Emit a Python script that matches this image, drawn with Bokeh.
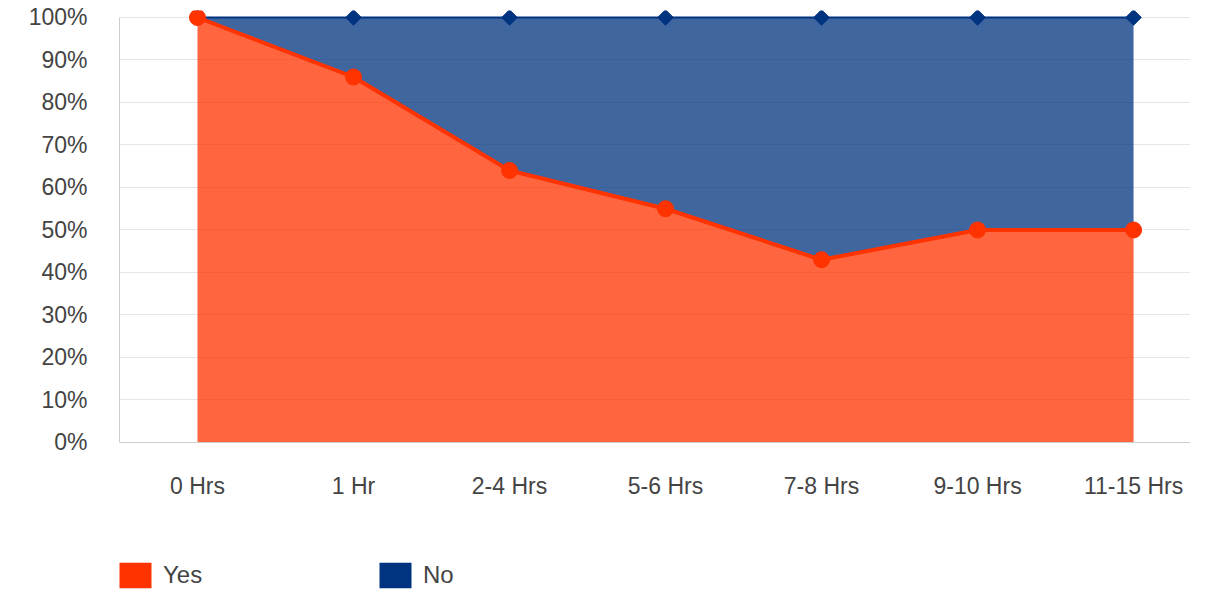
from bokeh.plotting import figure
from bokeh.models import (ColumnDataSource, Range1d, FixedTicker, PrintfTickFormatter,
                          Legend, LegendItem)
from bokeh.embed import file_html
from bokeh.resources import INLINE
import math

categories = ["0 Hrs", "1 Hr", "2-4 Hrs", "5-6 Hrs", "7-8 Hrs", "9-10 Hrs", "11-15 Hrs"]
yes = [100, 86, 64, 55, 43, 50, 50]
no = [0, 14, 36, 45, 57, 50, 50]
y_ticks = [0, 10, 20, 30, 40, 50, 60, 70, 80, 90, 100]

YES_COLOR = "#FF3300"
NO_COLOR = "#003380"
FONT = "Liberation Sans"

x = list(range(len(categories)))
no_top = [a + b for a, b in zip(yes, no)]
src = ColumnDataSource(dict(x=x, yes=yes, no_top=no_top, base=[0] * len(x)))

# frame runs to the bottom of the canvas so the legend can sit inside it
p = figure(width=1190, height=591, output_backend="svg", toolbar_location=None,
           x_range=Range1d(-0.5, 6.365), y_range=Range1d(-35.059, 101.647),
           min_border_left=119, min_border_right=0, min_border_top=10,
           min_border_bottom=0)
p.outline_line_color = None
p.background_fill_color = "white"

# No series (stacked on top)
p.varea(x="x", y1="yes", y2="no_top", source=src, fill_color=NO_COLOR, fill_alpha=0.75)
# Yes series
p.varea(x="x", y1="base", y2="yes", source=src, fill_color=YES_COLOR, fill_alpha=0.75)

p.line(x="x", y="no_top", source=src, line_color=NO_COLOR, line_width=2)
p.scatter(x="x", y="no_top", source=src, marker="square", angle=math.pi / 4, size=11,
          fill_color=NO_COLOR, line_color=NO_COLOR)

p.line(x="x", y="yes", source=src, line_color=YES_COLOR, line_width=4)
p.scatter(x="x", y="yes", source=src, marker="circle", size=16,
          fill_color=YES_COLOR, line_color=YES_COLOR)

# grid & axes
p.xgrid.visible = False
p.ygrid.grid_line_color = "#e6e6e6"
p.ygrid.grid_line_width = 1
p.ygrid.ticker = FixedTicker(ticks=y_ticks)
p.yaxis.ticker = FixedTicker(ticks=y_ticks)
p.yaxis.formatter = PrintfTickFormatter(format="%d%%")
p.yaxis.bounds = (0, 100)
p.xaxis.ticker = FixedTicker(ticks=x)
p.xaxis.major_label_overrides = {i: c for i, c in enumerate(categories)}
p.xaxis.fixed_location = 0

for ax in (p.xaxis, p.yaxis):
    ax.axis_line_color = "#cccccc"
    ax.axis_line_width = 1
    ax.major_tick_line_color = None
    ax.minor_tick_line_color = None
    ax.major_tick_out = 0
    ax.major_tick_in = 0
    ax.major_label_text_font = FONT
    ax.major_label_text_font_size = "23px"
    ax.major_label_text_color = "#444444"
p.xaxis.major_label_standoff = 31
p.yaxis.major_label_standoff = 32

# legend swatches (renderers with no drawable coordinates, used only for the legend)
nan = float("nan")
leg_yes = p.quad(left=[nan], right=[nan], top=[nan], bottom=[nan],
                 fill_color=YES_COLOR, line_color=None)
leg_no = p.quad(left=[nan], right=[nan], top=[nan], bottom=[nan],
                fill_color=NO_COLOR, line_color=None)
legend = Legend(items=[LegendItem(label="Yes", renderers=[leg_yes]),
                       LegendItem(label="No", renderers=[leg_no])],
                location=(-4, 0), orientation="horizontal",
                glyph_width=40, glyph_height=32, label_standoff=8, label_width=212,
                spacing=0, padding=0, margin=0,
                border_line_alpha=0, background_fill_alpha=0,
                label_text_font=FONT, label_text_font_size="24px",
                label_text_color="#444444")
p.add_layout(legend)

open("out.html", "w").write(file_html(p, INLINE))
